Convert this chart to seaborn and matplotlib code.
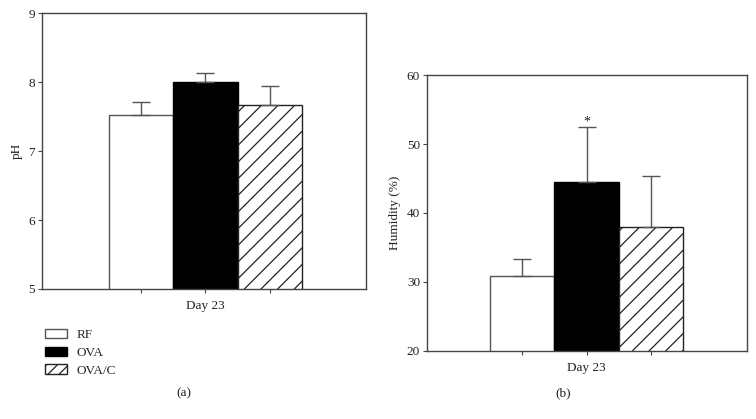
import numpy as np
import pandas as pd
import matplotlib
matplotlib.use("Agg")
import matplotlib.pyplot as plt
from matplotlib.patches import Patch
import seaborn as sns

groups = ["RF", "OVA", "OVA/C"]
ph_mean = [7.53, 8.00, 7.67]
ph_err = [0.19, 0.13, 0.27]
hum_mean = [30.9, 44.5, 38.0]
hum_err = [2.4, 8.0, 7.4]
xlabel = "Day 23"

sns.set_theme(style="white")
plt.rcParams["font.family"] = ["Liberation Serif", "DejaVu Serif"]
plt.rcParams["hatch.linewidth"] = 0.9
plt.rcParams["hatch.color"] = "#222222"

fill_colors = ["white", "black", "white"]
edge_colors = ["#555555", "black", "#222222"]
hatches = ["", "", "//"]
spine_col = "#444444"
FS = 9.5

fig = plt.figure(figsize=(7.56, 4.19), dpi=100)
ax1 = fig.add_axes([0.0556, 0.3103, 0.4282, 0.658])
ax2 = fig.add_axes([0.5648, 0.163, 0.4237, 0.6573])


def panel(ax, means, errs, ylim, yticks, ylabel, star=False):
    df = pd.DataFrame({"group": groups, "value": means})
    sns.barplot(data=df, x="group", y="value", hue="group", order=groups,
                hue_order=groups, palette=fill_colors, width=1, dodge=False,
                legend=False, ax=ax, errorbar=None, saturation=1)
    for p, ec, h in zip(ax.patches, edge_colors, hatches):
        p.set_edgecolor(ec)
        p.set_linewidth(1.0)
        p.set_hatch(h)
    x = np.arange(len(groups))
    ax.errorbar(x, means, yerr=[np.zeros(len(errs)), errs], fmt="none",
                ecolor="#555555", elinewidth=1.0, capsize=6.5, capthick=1.0,
                zorder=1)
    ax.set_ylim(*ylim)
    ax.set_yticks(yticks)
    ax.set_xticks(x)
    ax.set_xticklabels(["", xlabel, ""])
    ax.set_xlabel("")
    ax.set_ylabel(ylabel, fontsize=FS, color="#222222", labelpad=4)
    for s in ax.spines.values():
        s.set_color(spine_col)
        s.set_linewidth(1.0)
    ax.tick_params(axis="both", which="both", direction="out", length=3,
                   width=0.8, color=spine_col, labelsize=FS,
                   labelcolor="#222222", pad=2)
    ax.tick_params(axis="x", pad=5)
    ax.tick_params(left=True, bottom=True)
    if star:
        i = int(np.argmax(means))
        ax.annotate("*", (x[i], means[i] + errs[i]), xytext=(0, -1),
                    textcoords="offset points", ha="center", va="bottom",
                    fontsize=10, color="#222222")
    return ax


panel(ax1, ph_mean, ph_err, (5, 9), [5, 6, 7, 8, 9], "pH")
ax1.set_xlim(-1.55, 3.5)
panel(ax2, hum_mean, hum_err, (20, 60), [20, 30, 40, 50, 60], "Humidity (%)", star=True)
ax2.set_xlim(-1.48, 3.5)

handles = [Patch(facecolor=fc, edgecolor=ec, hatch=h, linewidth=1.0)
           for fc, ec, h in zip(fill_colors, edge_colors, ["", "", "///"])]
fig.legend(handles, groups, loc="upper left", bbox_to_anchor=(0.0595, 0.215),
           frameon=False, fontsize=FS, handlelength=1.7, handleheight=0.7,
           handletextpad=0.7, labelspacing=0.42, borderpad=0, borderaxespad=0)

fig.text(184 / 756, 1 - 393 / 419, "(a)", ha="center", va="center", fontsize=FS,
         color="#222222")
fig.text(563 / 756, 1 - 393 / 419, "(b)", ha="center", va="center", fontsize=FS,
         color="#222222")

fig.savefig("out.png", dpi=100)
